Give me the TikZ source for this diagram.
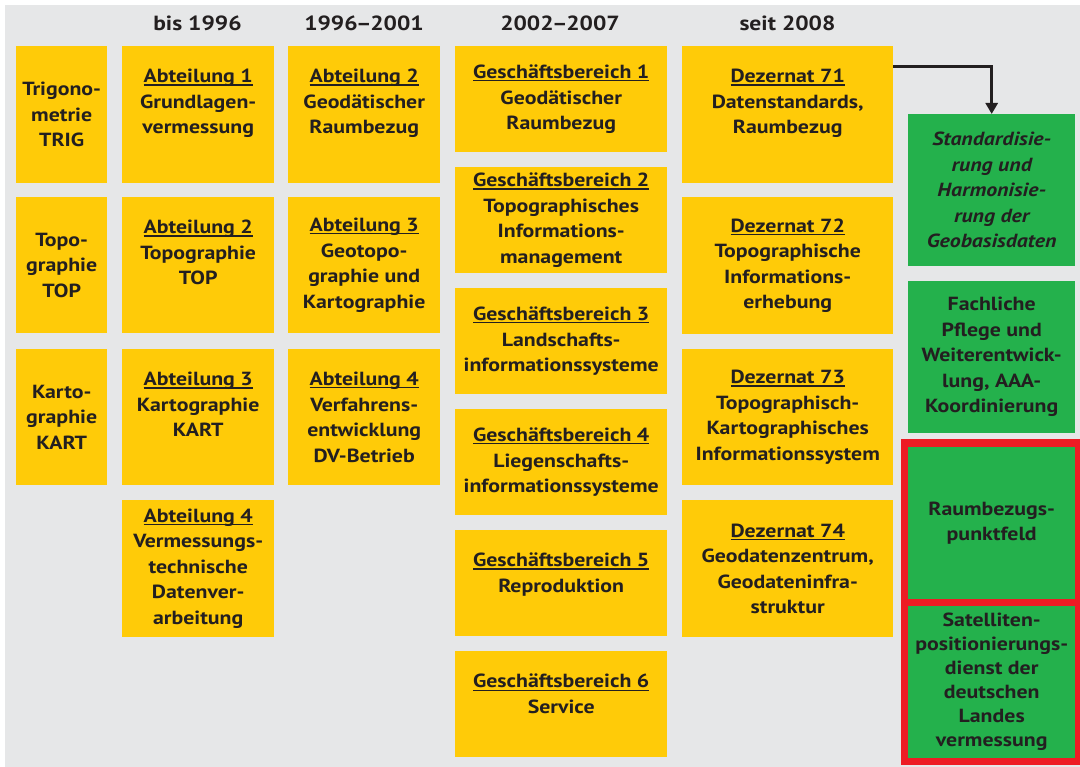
\documentclass[tikz,border=0pt]{standalone}
\usepackage{fontspec}
\setmainfont{PT Sans}[FakeStretch=1.15]
\usetikzlibrary{arrows.meta}

\definecolor{bg}{HTML}{E6E7E8}
\definecolor{amt}{HTML}{FFCB08}
\definecolor{neu}{HTML}{24B14C}
\definecolor{rahmen}{HTML}{ED1C24}
\definecolor{ink}{HTML}{231F20}

% underline that sits just below the baseline and crosses descenders
\newcommand\ulin[1]{\setbox0\hbox{#1}\rlap{\rule[-2.8pt]{\wd0}{1.2pt}}\box0}
% tight en dash for year ranges
\newcommand\bis{\kern-1.5pt--\kern-1.5pt}

\tikzset{
  feld/.style={draw=none, inner sep=0pt, anchor=north west},
  lab/.style={inner sep=0pt, align=center, text=ink,
    font=\fontsize{19}{25.5}\selectfont\bfseries},
  kopf/.style={inner sep=0pt, anchor=base, text=ink,
    font=\fontsize{20.5}{26}\selectfont\bfseries},
  pfeil/.style={draw=ink, line width=3.5pt,
    -{Triangle[width=12pt,length=11pt]}}
}

% box: name, x1, y1, x2, y2, fill colour
\newcommand\feldbox[6]{%
  \node[feld, fill=#6, minimum width={#4-#2}, minimum height={#5-#3}]
    (#1) at (#2,#3) {};}
% label set at the top of a box
\newcommand\oben[2]{\node[lab, anchor=north] (#1t) at ([yshift=-23pt]#1.north) {#2};}
% label centred in a box
\newcommand\mitte[2]{\node[lab] (#1t) at (#1.center) {#2};}

\begin{document}
\begin{tikzpicture}[x=1pt, y=-1pt]
\useasboundingbox (0,0) rectangle (1080,767);
\fill[white] (0,0) rectangle (1080,767);
\fill[bg] (5,5) rectangle (1080,767);

% column headings
\node[kopf] (h1) at (197.5,31) {bis 1996};
\node[kopf] (h2) at (364,31) {1996\bis2001};
\node[kopf] (h3) at (560,31) {2002\bis2007};
\node[kopf] (h4) at (787.5,31) {seit 2008};

% first column
\feldbox{c0a}{16}{46}{107}{183}{amt}  \mitte{c0a}{Trigono-\\metrie\\TRIG}
\feldbox{c0b}{16}{197}{107}{333}{amt} \mitte{c0b}{Topo-\\graphie\\TOP}
\feldbox{c0c}{16}{349}{107}{485}{amt} \mitte{c0c}{Karto-\\graphie\\KART}

% bis 1996
\feldbox{c1a}{122}{46}{274}{183}{amt}  \oben{c1a}{\ulin{Abteilung 1}\\Grundlagen-\\vermessung}
\feldbox{c1b}{122}{197}{274}{333}{amt} \oben{c1b}{\ulin{Abteilung 2}\\Topographie\\TOP}
\feldbox{c1c}{122}{349}{274}{485}{amt} \oben{c1c}{\ulin{Abteilung 3}\\Kartographie\\KART}
\feldbox{c1d}{122}{500}{274}{637}{amt} \mitte{c1d}{\ulin{Abteilung 4}\\Vermessungs-\\technische\\Datenver-\\arbeitung}

% 1996-2001
\feldbox{c2a}{288}{46}{440}{183}{amt}  \oben{c2a}{\ulin{Abteilung 2}\\Geodätischer\\Raumbezug}
\feldbox{c2b}{288}{197}{440}{333}{amt} \mitte{c2b}{\ulin{Abteilung 3}\\Geotopo-\\graphie und\\Kartographie}
\feldbox{c2c}{288}{349}{440}{485}{amt} \mitte{c2c}{\ulin{Abteilung 4}\\Verfahrens-\\entwicklung\\DV-Betrieb}

% 2002-2007
\feldbox{c3a}{455}{46}{667}{152}{amt}  \mitte{c3a}{\ulin{Geschäftsbereich 1}\\Geodätischer\\Raumbezug}
\feldbox{c3b}{455}{167}{667}{273}{amt} \mitte{c3b}{\ulin{Geschäftsbereich 2}\\Topographisches\\Informations-\\management}
\feldbox{c3c}{455}{288}{667}{394}{amt} \mitte{c3c}{\ulin{Geschäftsbereich 3}\\Landschafts-\\informationssysteme}
\feldbox{c3d}{455}{409}{667}{515}{amt} \mitte{c3d}{\ulin{Geschäftsbereich 4}\\Liegenschafts-\\informationssysteme}
\feldbox{c3e}{455}{530}{667}{636}{amt} \oben{c3e}{\ulin{Geschäftsbereich 5}\\Reproduktion}
\feldbox{c3f}{455}{651}{667}{757}{amt} \oben{c3f}{\ulin{Geschäftsbereich 6}\\Service}

% seit 2008
\feldbox{c4a}{682}{46}{893}{183}{amt}  \oben{c4a}{\ulin{Dezernat 71}\\Datenstandards,\\Raumbezug}
\feldbox{c4b}{682}{197}{893}{334}{amt} \mitte{c4b}{\ulin{Dezernat 72}\\Topographische\\Informations-\\erhebung}
\feldbox{c4c}{682}{349}{893}{485}{amt} \mitte{c4c}{\ulin{Dezernat 73}\\Topographisch-\\Kartographisches\\Informationssystem}
\feldbox{c4d}{682}{500}{893}{637}{amt} \mitte{c4d}{\ulin{Dezernat 74}\\Geodatenzentrum,\\Geodateninfra-\\struktur}

% tasks
\feldbox{g1}{908}{114}{1075}{266}{neu}
\node[lab, font=\fontsize{19}{25.5}\selectfont\bfseries\itshape] (g1t) at (g1.center)
  {Standardisie-\\rung und\\Harmonisie-\\rung der\\Geobasisdaten};
\feldbox{g2}{908}{281}{1075}{433}{neu} \mitte{g2}{Fachliche\\Pflege und\\Weiterentwick-\\lung, AAA-\\Koordinierung}

% framed pair
\feldbox{rf}{901}{439}{1080}{765}{rahmen}
\feldbox{g3}{908}{447}{1075}{599}{neu} \mitte{g3}{Raumbezugs-\\punktfeld}
\feldbox{g4}{908}{606}{1075}{758}{neu}
\node[lab, font=\fontsize{19}{24}\selectfont\bfseries] (g4t) at (g4.center)
  {Satelliten-\\positionierungs-\\dienst der\\deutschen\\Landes\\vermessung};

% link from Dezernat 71
\draw[pfeil] ([yshift=48pt]c4a.east) -| (g1.north);
\end{tikzpicture}
\end{document}
